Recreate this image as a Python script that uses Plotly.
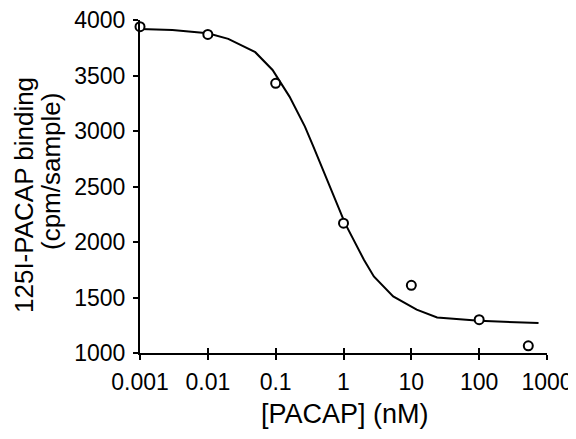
import plotly.graph_objects as go

# measured points: [PACAP] (nM) vs 125I-PACAP binding (cpm/sample)
conc = [0.001, 0.01, 0.1, 1, 10, 100, 530]
binding = [3940, 3870, 3430, 2170, 1610, 1300, 1065]

# fitted curve
fit_conc = [0.001, 0.003, 0.01, 0.02, 0.05, 0.09, 0.16, 0.27, 0.36, 0.63,
            1.05, 2, 2.8, 5.4, 12, 24, 100, 750]
fit_binding = [3920, 3910, 3880, 3830, 3710, 3550, 3310, 3040, 2860, 2500,
               2170, 1840, 1690, 1510, 1390, 1320, 1290, 1270]

xticks = [0.001, 0.01, 0.1, 1, 10, 100, 1000]
xticklabels = ["0.001", "0.01", "0.1", "1", "10", "100", "1000"]
yticks = [1000, 1500, 2000, 2500, 3000, 3500, 4000]

font = "Liberation Sans, Arial, sans-serif"

# the page body has an 8px margin, so the figure is 8px smaller each way
PLOT_W, PLOT_H = 407, 333

fig = go.Figure()
fig.add_trace(go.Scatter(x=fit_conc, y=fit_binding, mode="lines",
                         line=dict(color="black", width=2), hoverinfo="skip"))
fig.add_trace(go.Scatter(x=conc, y=binding, mode="markers", cliponaxis=False,
                         marker=dict(symbol="circle", size=9, color="white",
                                     line=dict(color="black", width=2))))
# invisible trace so the overlaid axis (inner half of the crossing ticks) is drawn
fig.add_trace(go.Scatter(x=conc, y=binding, mode="markers", xaxis="x2",
                         marker=dict(opacity=0), hoverinfo="skip"))

axis_common = dict(showgrid=False, zeroline=False, linecolor="black",
                   tickcolor="black", tickwidth=2, ticklabeloverflow="allow",
                   automargin=False,
                   tickfont=dict(family=font, size=23, color="black"))


def px(x):
    return (x - 140) / PLOT_W


def py(y):
    return (353 - y) / PLOT_H


fig.update_layout(
    width=568, height=431,
    margin=dict(l=132, r=29, t=12, b=86, autoexpand=False),
    plot_bgcolor="white", paper_bgcolor="white",
    showlegend=False,
    xaxis=dict(type="log", range=[-3, 3], tickvals=xticks, ticktext=xticklabels,
               showline=True, linewidth=2, ticks="outside", ticklen=5,
               ticklabelstandoff=2, **axis_common),
    xaxis2=dict(type="log", range=[-3, 3], overlaying="x", anchor="y", side="bottom",
                tickvals=xticks, showticklabels=False, showline=False,
                ticks="inside", ticklen=5, showgrid=False, zeroline=False,
                tickcolor="black", tickwidth=2),
    yaxis=dict(range=[1000, 4000], tickvals=yticks, showline=True, linewidth=2,
               ticks="outside", ticklen=5, ticklabelstandoff=3, **axis_common),
    annotations=[
        dict(text="125I-PACAP binding", xref="paper", yref="paper",
             x=px(24), y=py(195), textangle=-90,
             showarrow=False, xanchor="center", yanchor="middle",
             font=dict(family=font, size=26, color="black")),
        dict(text="(cpm/sample)", xref="paper", yref="paper",
             x=px(51), y=py(172), textangle=-90,
             showarrow=False, xanchor="center", yanchor="middle",
             font=dict(family=font, size=26, color="black")),
        dict(text="[PACAP] (nM)", xref="paper", yref="paper",
             x=px(345), y=py(414),
             showarrow=False, xanchor="center", yanchor="middle",
             font=dict(family=font, size=27, color="black")),
    ],
)

fig.write_html("out.html")
